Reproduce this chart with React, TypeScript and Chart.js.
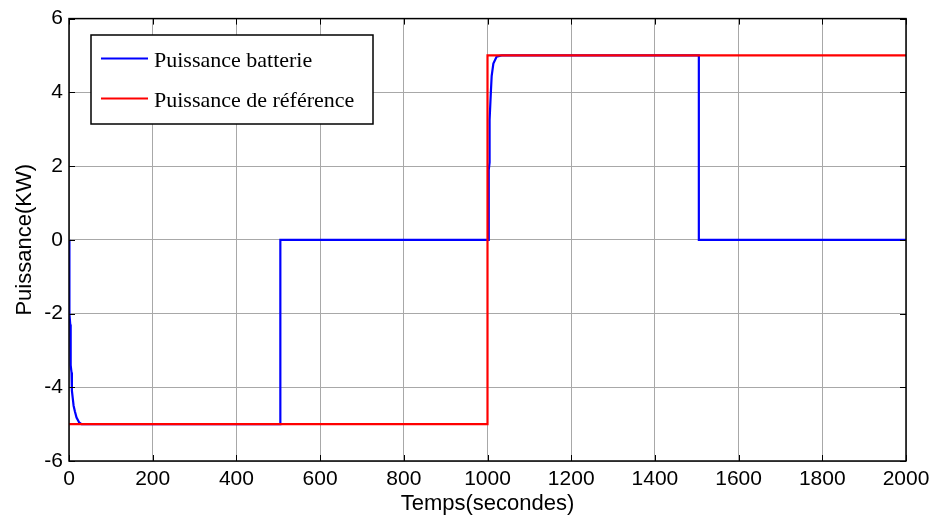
import React, { useEffect, useRef } from 'react';
import { Chart, registerables } from 'chart.js';

Chart.register(...registerables);

// Battery power (blue) – time in seconds, power in kW
const batteryTime = [0, 1, 3, 4, 6, 7, 9, 11, 14, 18, 24, 30, 505, 505, 1003, 1003, 1005, 1005, 1008, 1010, 1014, 1022, 1034, 1505, 1505, 2000];
const batteryPower = [0, -2, -2.3, -3.4, -3.6, -4.1, -4.3, -4.5, -4.65, -4.82, -4.95, -5, -5, 0, 0, 1.9, 2.1, 3.25, 4.0, 4.45, 4.78, 4.97, 5, 5, 0, 0];

// Reference power (red)
const referenceTime = [0, 1000, 1000, 2000];
const referencePower = [-5, -5, 5, 5];

const legendLabels = ['Puissance batterie', 'Puissance de référence'];
const xTitle = 'Temps(secondes)';
const yTitle = 'Puissance(KW)';

const SANS = '"Liberation Sans", Arial, sans-serif';
const SERIF = '"Liberation Serif", "Times New Roman", serif';

const framePlugin = {
  id: 'matlabFrame',
  afterDraw(chart: any) {
    const ctx = chart.ctx;
    const { left, right, top, bottom } = chart.chartArea;
    const xs = chart.scales.x;
    const ys = chart.scales.y;
    ctx.save();
    ctx.strokeStyle = '#000';
    ctx.lineWidth = 1.5;
    ctx.strokeRect(left, top, right - left, bottom - top);
    // inward ticks
    ctx.lineWidth = 1;
    ctx.beginPath();
    for (const t of xs.ticks) {
      const px = Math.round(xs.getPixelForValue(t.value)) + 0.5;
      ctx.moveTo(px, bottom);
      ctx.lineTo(px, bottom - 6);
      ctx.moveTo(px, top);
      ctx.lineTo(px, top + 6);
    }
    for (const t of ys.ticks) {
      const py = Math.round(ys.getPixelForValue(t.value)) + 0.5;
      ctx.moveTo(left, py);
      ctx.lineTo(left + 6, py);
      ctx.moveTo(right, py);
      ctx.lineTo(right - 6, py);
    }
    ctx.stroke();

    // legend box
    const bx = 91, by = 35, bw = 282, bh = 89;
    ctx.fillStyle = '#fff';
    ctx.fillRect(bx, by, bw, bh);
    ctx.strokeStyle = '#000';
    ctx.lineWidth = 1.5;
    ctx.strokeRect(bx, by, bw, bh);
    const colors = ['#0000ff', '#ff0000'];
    const rows = [58.5, 98.5];
    ctx.font = `22px ${SERIF}`;
    ctx.textBaseline = 'alphabetic';
    ctx.textAlign = 'left';
    for (let i = 0; i < 2; i++) {
      ctx.strokeStyle = colors[i];
      ctx.lineWidth = 2;
      ctx.beginPath();
      ctx.moveTo(101, rows[i]);
      ctx.lineTo(148, rows[i]);
      ctx.stroke();
      ctx.fillStyle = '#000';
      ctx.fillText(legendLabels[i], 154, rows[i] + 8);
    }
    ctx.restore();
  },
};

export default function App() {
  const canvasRef = useRef<HTMLCanvasElement | null>(null);

  useEffect(() => {
    const canvas = canvasRef.current;
    if (!canvas) return;
    const chart = new Chart(canvas, {
      type: 'line',
      data: {
        datasets: [
          {
            label: legendLabels[0],
            data: batteryTime.map((t, i) => ({ x: t, y: batteryPower[i] })),
            borderColor: '#0000ff',
            backgroundColor: '#0000ff',
            borderWidth: 2.2,
            pointRadius: 0,
            tension: 0,
            order: 1,
          },
          {
            label: legendLabels[1],
            data: referenceTime.map((t, i) => ({ x: t, y: referencePower[i] })),
            borderColor: '#ff0000',
            backgroundColor: '#ff0000',
            borderWidth: 2.2,
            pointRadius: 0,
            tension: 0,
            order: 0,
          },
        ],
      },
      options: {
        animation: false,
        responsive: false,
        devicePixelRatio: 1,
        layout: { padding: { top: 15, right: 31, left: 0, bottom: 0 } },
        plugins: {
          legend: { display: false },
          tooltip: { enabled: false },
        },
        scales: {
          x: {
            type: 'linear',
            min: 0,
            max: 2000,
            ticks: {
              stepSize: 200,
              autoSkip: false,
              maxRotation: 0,
              padding: 6,
              color: '#000',
              font: { family: SANS, size: 21 },
              callback: (v: any) => String(v),
            },
            grid: { color: '#a8a8a8', lineWidth: 1, drawTicks: false },
            border: { display: false },
            title: {
              display: true,
              text: xTitle,
              color: '#000',
              font: { family: SANS, size: 22 },
              padding: { top: 0, bottom: 2 },
            },
            afterFit: (scale: any) => {
              scale.height = 58;
            },
          },
          y: {
            type: 'linear',
            min: -6,
            max: 6,
            ticks: {
              stepSize: 2,
              padding: 6,
              color: '#000',
              font: { family: SANS, size: 21 },
              callback: (v: any) => String(v),
            },
            grid: { color: '#a8a8a8', lineWidth: 1, drawTicks: false },
            border: { display: false },
            title: {
              display: true,
              text: yTitle,
              color: '#000',
              font: { family: SANS, size: 22 },
              padding: { top: 12, bottom: 0 },
            },
            afterFit: (scale: any) => {
              scale.width = 69;
            },
          },
        },
      },
      plugins: [framePlugin],
    });
    return () => chart.destroy();
  }, []);

  return (
    <div style={{ position: 'absolute', left: 0, top: 0, width: 937, height: 519, background: '#fff' }}>
      <canvas ref={canvasRef} width={937} height={519} style={{ display: 'block' }} />
    </div>
  );
}
